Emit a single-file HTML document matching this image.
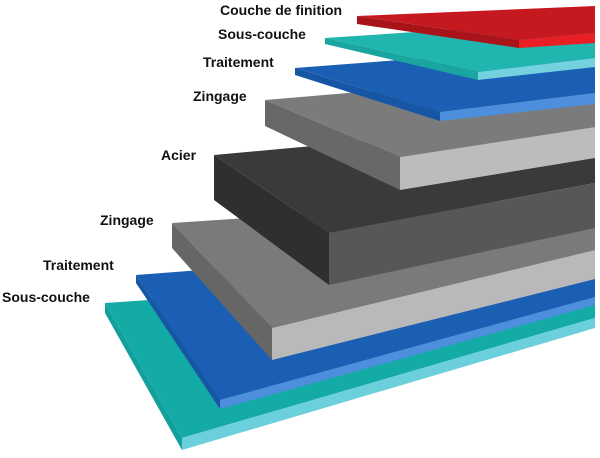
<!DOCTYPE html>
<html><head><meta charset="utf-8"><style>
html,body{margin:0;padding:0;background:#fff;}
svg{display:block}
text{font-family:"Liberation Sans",sans-serif;font-weight:bold;font-size:14px;fill:#111}
</style></head><body>
<svg width="600" height="458" viewBox="0 0 600 458" xmlns="http://www.w3.org/2000/svg">
<polygon points="105,303 595,270 595,318 182,438" fill="#14aaa6"/>
<polygon points="105,303 182,438 182,450 105,313" fill="#12a09c"/>
<polygon points="182,438 595,318 595,328 182,450" fill="#6ccfdc"/>
<polygon points="136,275 595,240 595,297 220,400" fill="#1a5fb4"/>
<polygon points="136,275 220,400 220,409 136,283" fill="#1656a4"/>
<polygon points="220,400 595,297 595,305 220,409" fill="#4d8fdc"/>
<polygon points="172,223 595,195 595,250 272,328" fill="#7a7a7a"/>
<polygon points="172,223 272,328 272,360 172,248" fill="#666"/>
<polygon points="272,328 595,250 595,279 272,360" fill="#b9b9b9"/>
<polygon points="214,155 595,120 595,183 329,233" fill="#3a3a3a"/>
<polygon points="214,155 329,233 329,285 214,200" fill="#2f2f2f"/>
<polygon points="329,233 595,183 595,228 329,285" fill="#575757"/>
<polygon points="265,100 595,72 595,127 400,157" fill="#7b7b7b"/>
<polygon points="265,100 400,157 400,190 265,126" fill="#686868"/>
<polygon points="400,157 595,127 595,158 400,190" fill="#bcbcbc"/>
<polygon points="295,68 595,45 595,93 440,112" fill="#1a5fb4"/>
<polygon points="295,68 440,112 440,121 295,75" fill="#1656a4"/>
<polygon points="440,112 595,93 595,104 440,121" fill="#4d8fdc"/>
<polygon points="325,38 595,20 595,58 478,72" fill="#21b5b0"/>
<polygon points="325,38 478,72 478,80 325,44" fill="#1aa5a0"/>
<polygon points="478,72 595,58 595,67 478,80" fill="#74d2df"/>
<polygon points="357,16 595,6 595,33 519,40" fill="#c5191f"/>
<polygon points="357,16 519,40 519,48 357,24" fill="#a8141a"/>
<polygon points="519,40 595,33 595,43 519,48" fill="#ea1f26"/>
<text x="220" y="15">Couche de finition</text>
<text x="218" y="39">Sous-couche</text>
<text x="203" y="67">Traitement</text>
<text x="193" y="101">Zingage</text>
<text x="161" y="160">Acier</text>
<text x="100" y="225">Zingage</text>
<text x="43" y="270">Traitement</text>
<text x="2" y="302">Sous-couche</text>
</svg>
</body></html>
